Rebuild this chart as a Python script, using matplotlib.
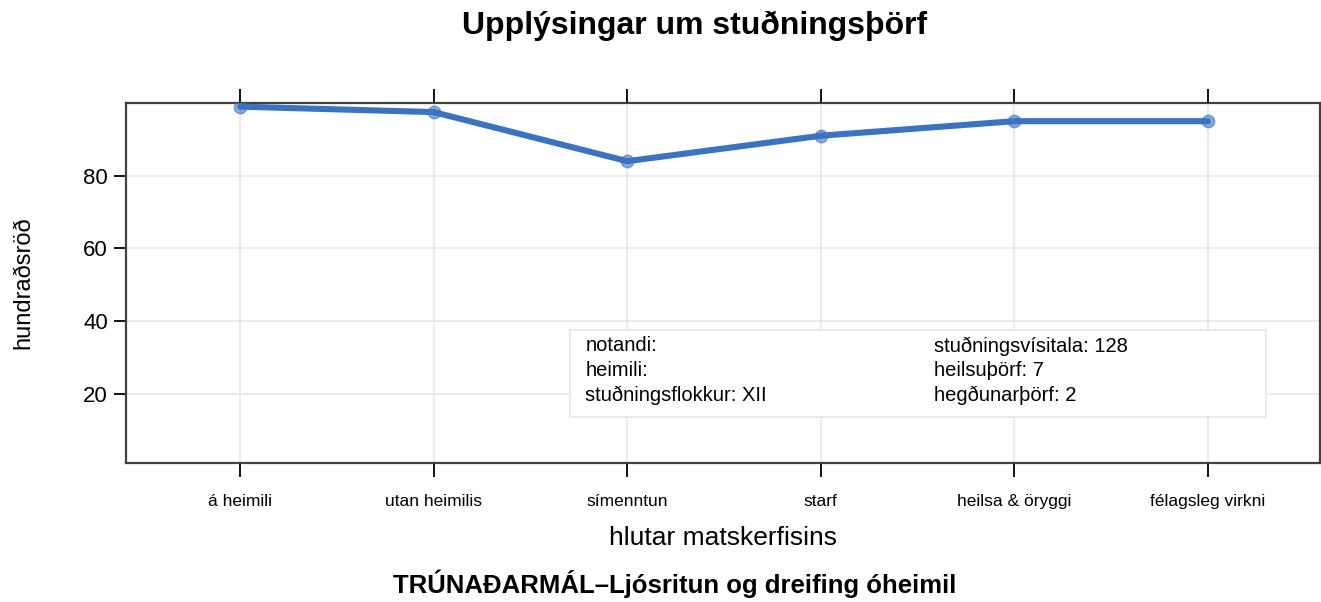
import numpy as np
import matplotlib.pyplot as plt
from matplotlib.patches import Rectangle

plt.rcParams['font.family'] = ['Liberation Sans', 'DejaVu Sans']

# gögn
flokkar = ["á heimili", "utan heimilis", "símenntun", "starf", "heilsa & öryggi", "félagsleg virkni"]
hundradsrod = [99, 97.5, 84, 91, 95, 95]
y_ticks = [20, 40, 60, 80]

upplysingar_vinstri = ["notandi:", "heimili:", "stuðningsflokkur: XII"]
upplysingar_haegri = ["stuðningsvísitala: 128", "heilsuþörf: 7", "hegðunarþörf: 2"]

fig = plt.figure(figsize=(13.21, 6.02), dpi=100)
ax = fig.add_axes([0.0954, 0.2309, 0.9039, 0.598])

x = np.arange(1, len(flokkar) + 1)
litur = "#3b73c1"
ax.plot(x, hundradsrod, color=litur, lw=4.4, solid_capstyle="round", zorder=3)
ax.plot(x, hundradsrod, "o", color=litur, ms=9, alpha=0.6, zorder=4)

ax.set_xlim(0.41, 6.58)
ax.set_ylim(1, 100)
ax.set_xticks(x)
ax.set_xticklabels(flokkar, fontsize=12.5)
ax.set_yticks(y_ticks)
ax.tick_params(axis="y", labelsize=16, direction="out", length=9, width=1.3, right=False, pad=4)
ax.tick_params(axis="x", direction="out", length=10, width=1.3, top=True, pad=12)
ax.grid(True, color="#e8e8e8", lw=1.2, zorder=0)
ax.set_axisbelow(True)

for s in ["left", "bottom", "top", "right"]:
    ax.spines[s].set_linewidth(1.6)
    ax.spines[s].set_color("#404040")

ax.set_ylabel("hundraðsröð", fontsize=17)
ax.yaxis.set_label_coords(-0.077, 0.5)
ax.set_xlabel("hlutar matskerfisins", fontsize=19)
ax.xaxis.set_label_coords(0.5, -0.175)

fig.text(0.526, 0.957, "Upplýsingar um stuðningsþörf", ha="center", va="center",
         fontsize=23, fontweight="bold")
fig.text(0.511, 0.031, "TRÚNAÐARMÁL–Ljósritun og dreifing óheimil", ha="center", va="center",
         fontsize=18.5, fontweight="bold")

# upplýsingakassi
ax.add_patch(Rectangle((2.706, 13.6), 3.594, 24.0, facecolor="white", edgecolor="#e6e6e6",
                       lw=1.2, zorder=5))
for i, (v, h) in enumerate(zip(upplysingar_vinstri, upplysingar_haegri)):
    yy = 33.2 - i * 6.85
    ax.text(2.784, yy, v, fontsize=14.5, va="center", zorder=6)
    ax.text(4.583, yy, h, fontsize=14.5, va="center", zorder=6)

fig.savefig("out.png", dpi=100)
